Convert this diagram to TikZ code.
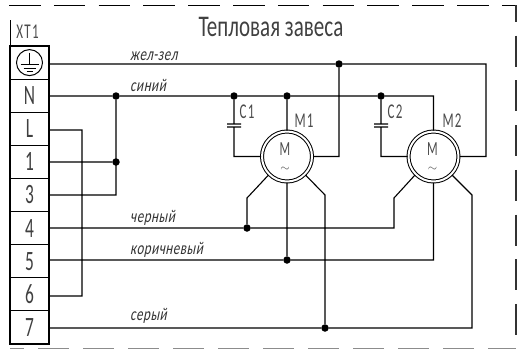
\documentclass[tikz,border=0pt]{standalone}
\usepackage{fontspec}
\setmainfont{Carlito}[FakeStretch=0.62]
\newfontfamily\slantfont{Carlito}[FakeStretch=0.72,FakeSlant=0.2,LetterSpace=3]
\newfontfamily\titlefont{Carlito}[FakeStretch=0.7]
\newfontfamily\partfont{Carlito}[FakeStretch=0.62,LetterSpace=6]
\usetikzlibrary{positioning}

\tikzset{
  term/.style={draw,line width=1.2pt,minimum width=39pt,minimum height=33.1pt,inner sep=0pt,
    font=\fontsize{28}{28}\selectfont,text=black!75},
  dot/.style={circle,fill=black,inner sep=0pt,minimum size=7.5pt},
  motor/.style={circle,draw,double,double distance=2pt,line width=1pt,minimum size=50pt,
    inner sep=0pt,outer sep=1pt},
  motorlab/.style={inner sep=0pt,text=black!70,font=\fontsize{20}{20}\selectfont},
  wirelab/.style={anchor=base west,inner sep=0pt,text=black!80,font=\fontsize{18}{18}\selectfont\slantfont},
  partlab/.style={inner sep=0pt,text=black!70,font=\fontsize{21}{21}\selectfont\partfont},
  wire/.style={line width=1.1pt}
}

\begin{document}
\begin{tikzpicture}[x=1pt,y=-1pt,node distance=33.1pt,on grid]
  \useasboundingbox (0,0) rectangle (519,349);
  \path
  node[term] (t_pe) at (29.5,62.6) {}
  node[term] (t_n) [below=of t_pe] {N}
  node[term] (t_l) [below=of t_n] {L}
  node[term] (t_1) [below=of t_l] {1}
  node[term] (t_3) [below=of t_1] {3}
  node[term] (t_4) [below=of t_3] {4}
  node[term] (t_5) [below=of t_4] {5}
  node[term] (t_6) [below=of t_5] {6}
  node[term] (t_7) [below=of t_6] {7}
  ;
  % junctions
  \path
  node[dot] (d_n1) at (116,96) {}
  node[dot] (d_n2) [right=118pt of d_n1] {}
  node[dot] (d_n3) [right=53pt of d_n2] {}
  node[dot] (d_n4) [right=94pt of d_n3] {}
  node[dot] (d_1) [below=66pt of d_n1] {}
  node[dot] (d_pe) at (339,64) {}
  node[dot] (d_4) at (247,228) {}
  node[dot] (d_5) [below=164pt of d_n3] {}
  node[dot] (d_7) at (325,328) {}
  ;
  % motors
  \path
  node[motor] (m_1) [below=60.5pt of d_n3] {}
  node[motor] (m_2) [right=146.5pt of m_1] {}
  node[motorlab] (m_1t) [above left=7.5pt and 2pt of m_1] {M}
  node[motorlab] (m_2t) [above left=7.5pt and 1pt of m_2] {M}
  node[motorlab,font=\fontsize{12}{12}\selectfont] (m_1s) [below left=12.5pt and 2pt of m_1] {$\sim$}
  node[motorlab,font=\fontsize{12}{12}\selectfont] (m_2s) [below left=12.5pt and 1pt of m_2] {$\sim$}
  ;
  \coordinate (c_l) at (82,130);
  \coordinate (c_6) at (82,296);
  \coordinate (c_3) at (116,195);
  \coordinate (c_pe) at (486,156.5);
  \coordinate (c_1l) at (247,198);
  \coordinate (c_1r) at (325,195);
  \coordinate (c_2l) at (394,198);
  \coordinate (c_2r) at (472,195);
  \coordinate (c_1t) at (234,124);
  \coordinate (c_1b) at (234,127);
  \coordinate (c_2t) at (381,124);
  \coordinate (c_2b) at (381,127);
  % wires
  \path[wire,draw]
  (t_pe.east |- d_pe) -- (d_pe) -| (c_pe) -- (m_2.east)
  (d_pe) |- (m_1.east)
  (t_n.east |- d_n1) -- (d_n1) -- (d_n2) -- (d_n3) -- (d_n4) -| (m_2.north)
  (d_n3) -- (m_1.north)
  (t_l.east |- c_l) -- (c_l) -- (c_6) -- (t_6.east |- c_6)
  (t_1.east |- d_1) -- (d_1)
  (t_3.east |- c_3) -- (c_3) -- (d_n1)
  (t_4.east |- d_4) -- (d_4) -| (c_2l) -- (m_2.225)
  (m_1.225) -- (c_1l) -- (d_4)
  (t_5.east |- d_5) -- (d_5) -| (m_2.south)
  (m_1.south) -- (d_5)
  (t_7.east |- d_7) -- (d_7) -| (c_2r) -- (m_2.-45)
  (m_1.-45) -- (c_1r) -- (d_7)
  % capacitors
  (d_n2) -- (c_1t)
  (c_1b) |- (m_1.west)
  ([xshift=-7pt]c_1t) -- ([xshift=7pt]c_1t)
  ([xshift=-7pt]c_1b) -- ([xshift=7pt]c_1b)
  (d_n4) -- (c_2t)
  (c_2b) |- (m_2.west)
  ([xshift=-7pt]c_2t) -- ([xshift=7pt]c_2t)
  ([xshift=-7pt]c_2b) -- ([xshift=7pt]c_2b)
  ;
  % earth sign
  \node[circle,draw,line width=1pt,minimum size=26pt,inner sep=0pt] (g_c) at (t_pe) {};
  \path[wire,draw]
  ([shift={(0,-10)}]g_c.center) -- ([shift={(0,2)}]g_c.center)
  ([shift={(-9,2)}]g_c.center) -- ([shift={(9,2)}]g_c.center)
  ([shift={(-6,5.5)}]g_c.center) -- ([shift={(6,5.5)}]g_c.center)
  ([shift={(-3,8.5)}]g_c.center) -- ([shift={(3,8.5)}]g_c.center)
  ;
  % outer frame
  \draw[line width=1pt,dash pattern=on 31.6pt off 13.2pt] (9,5) -- (516,5);
  \draw[line width=1pt] (10,20) -- (t_pe.north -| 10,0);
  \draw[line width=1.6pt,black!80,dash pattern=on 31pt off 13.7pt,dash phase=14pt] (516,5) -- (516,340);
  \draw[line width=1.2pt,black!45,dash pattern=on 31pt off 14pt,dash phase=17pt] (10,348.4) -- (516,348.4);
  % texts
  \node[inner sep=0pt,text=black!75,font=\fontsize{30}{30}\selectfont\titlefont] (title) at (271,27) {Тепловая завеса};
  \node[partlab] (l_xt) at (27.5,32) {XT1};
  \node[partlab] (l_c1) at (247,112) {C1};
  \node[partlab] (l_c2) at (395,112) {C2};
  \node[partlab] (l_m1) at (304,121) {M1};
  \node[partlab] (l_m2) at (452,121) {M2};
  \node[wirelab] (l_pe) at (130,60) {жел-зел};
  \node[wirelab] (l_n) at (130,91) {синий};
  \node[wirelab] (l_4) at (130,222) {черный};
  \node[wirelab] (l_5) at (130,254) {коричневый};
  \node[wirelab] (l_7) at (130,320) {серый};
\end{tikzpicture}
\end{document}
